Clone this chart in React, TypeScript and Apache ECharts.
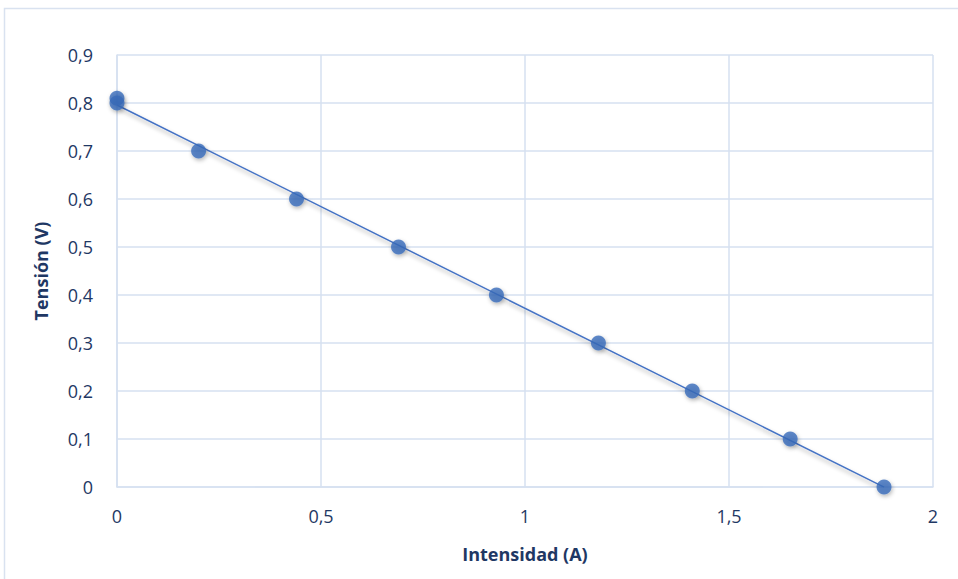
import React, { useEffect, useRef } from "react";
import * as echarts from "echarts";

const intensidad = [0, 0, 0.2, 0.44, 0.69, 0.93, 1.18, 1.41, 1.65, 1.88];
const tension = [0.81, 0.8, 0.7, 0.6, 0.5, 0.4, 0.3, 0.2, 0.1, 0];
const xTitle = "Intensidad (A)";
const yTitle = "Tensión (V)";

function linearFit(xs: number[], ys: number[]) {
  const n = xs.length;
  const mx = xs.reduce((a, b) => a + b, 0) / n;
  const my = ys.reduce((a, b) => a + b, 0) / n;
  let sxy = 0, sxx = 0;
  for (let i = 0; i < n; i++) {
    sxy += (xs[i] - mx) * (ys[i] - my);
    sxx += (xs[i] - mx) * (xs[i] - mx);
  }
  const m = sxy / sxx;
  return { m, b: my - m * mx };
}

export default function App() {
  const ref = useRef<HTMLDivElement>(null);
  useEffect(() => {
    if (!ref.current) return;
    const chart = echarts.init(ref.current, null, { renderer: "svg" });
    const fit = linearFit(intensidad, tension);
    const xMin = Math.min(...intensidad);
    const xMax = Math.max(...intensidad);
    const trend = [
      [xMin, fit.m * xMin + fit.b],
      [xMax, fit.m * xMax + fit.b],
    ];
    const labelColor = "#1F3864";
    const gridColor = "#D6E1F1";
    const fmt = (v: number) => String(v).replace(".", ",");
    chart.setOption({
      animation: false,
      backgroundColor: "#ffffff",
      textStyle: { fontFamily: "Open Sans, Liberation Sans, sans-serif" },
      graphic: [
        {
          type: "rect",
          shape: { x: 4.5, y: 8.5, width: 960, height: 580 },
          style: { fill: "none", stroke: "#D9E2F0", lineWidth: 1.5 },
          silent: true,
        },
      ],
      grid: { left: 117, right: 25, top: 55, bottom: 92 },
      xAxis: {
        type: "value",
        min: 0,
        max: 2,
        interval: 0.5,
        name: xTitle,
        nameLocation: "middle",
        nameGap: 58,
        nameTextStyle: { color: labelColor, fontSize: 18, fontWeight: "bold" },
        axisLine: { show: true, lineStyle: { color: gridColor, width: 1.5 } },
        axisTick: { show: false },
        axisLabel: { color: labelColor, fontSize: 18, margin: 20, formatter: fmt },
        splitLine: { show: true, lineStyle: { color: gridColor, width: 1.5 } },
      },
      yAxis: {
        type: "value",
        min: 0,
        max: 0.9,
        interval: 0.1,
        name: yTitle,
        nameLocation: "middle",
        nameGap: 67,
        nameTextStyle: { color: labelColor, fontSize: 18, fontWeight: "bold" },
        axisLine: { show: true, lineStyle: { color: gridColor, width: 1.5 } },
        axisTick: { show: false },
        axisLabel: {
          color: labelColor,
          fontSize: 18,
          margin: 24,
          formatter: (v: number) => fmt(Math.round(v * 10) / 10),
        },
        splitLine: { show: true, lineStyle: { color: gridColor, width: 1.5 } },
      },
      series: [
        {
          type: "line",
          data: trend,
          symbol: "none",
          lineStyle: {
            color: "#4472C4",
            width: 1.5,
            shadowColor: "rgba(0,0,0,0.35)",
            shadowBlur: 4,
            shadowOffsetY: 3,
            shadowOffsetX: 1,
          },
          z: 2,
        },
        {
          type: "scatter",
          data: intensidad.map((x, i) => [x, tension[i]]),
          symbol: "circle",
          symbolSize: 15,
          itemStyle: {
            color: "#386BBA",
            shadowColor: "rgba(0,0,0,0.35)",
            shadowBlur: 4,
            shadowOffsetY: 2,
            shadowOffsetX: 1,
          },
          z: 3,
        },
      ],
    });
    return () => chart.dispose();
  }, []);
  return (
    <div
      ref={ref}
      style={{ position: "absolute", left: 0, top: 0, width: 958, height: 579 }}
    />
  );
}
